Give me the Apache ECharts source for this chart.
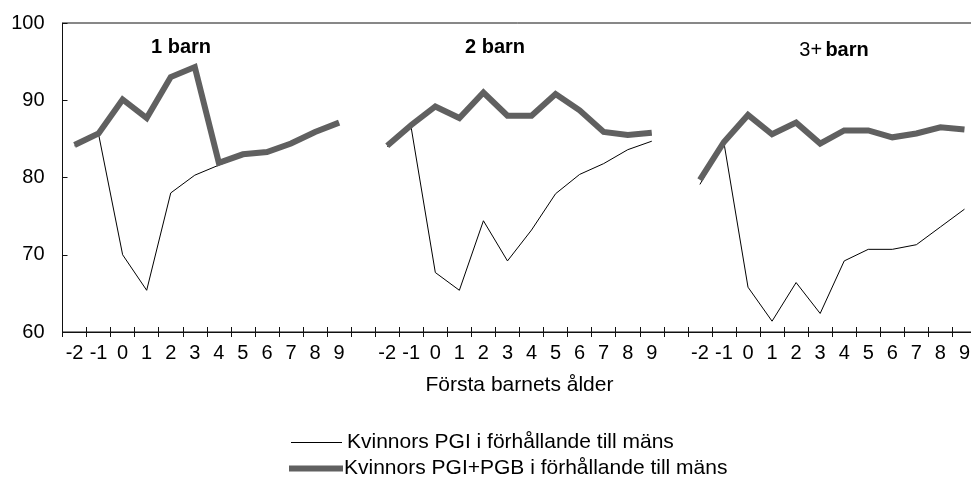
<!DOCTYPE html>
<html>
<head>
<meta charset="utf-8">
<title>Kvinnors PGI i förhållande till mäns</title>
<script src="https://cdn.jsdelivr.net/npm/echarts@6/dist/echarts.min.js"></script>
<style>
    html, body { margin: 0; padding: 0; background: #fff; }
    #pgi_chart { width: 971px; height: 480px; }
</style>
</head>
<body>
<div id="pgi_chart"></div>
<script>

// Chart data
// ------------------------------

// Tick labels, repeated for every panel
var ageLabels = ['-2', '-1', '0', '1', '2', '3', '4', '5', '6', '7', '8', '9'];

// Panel titles
var groupNames = ['1 barn', '2 barn', '3+ barn'];

// Series names
var thinName = 'Kvinnors PGI i förhållande till mäns';
var thickName = 'Kvinnors PGI+PGB i förhållande till mäns';

// Kvinnors PGI, per panel
var thin1 = [84.1, 85.6, 70.0, 65.4, 78.0, 80.3, 81.6, 82.8, 83.2, 84.3, 85.8, 87.0];
var thin2 = [84.0, 86.4, 67.7, 65.4, 74.4, 69.2, 73.2, 77.9, 80.4, 81.8, 83.6, 84.7];
var thin3 = [79.1, 84.5, 65.8, 61.4, 66.4, 62.4, 69.2, 70.7, 70.7, 71.3, 73.6, 75.9];

// Kvinnors PGI+PGB, per panel
var thick1 = [84.2, 85.7, 90.1, 87.7, 93.0, 94.3, 81.9, 83.0, 83.3, 84.4, 85.9, 87.1];
var thick2 = [84.1, 86.8, 89.2, 87.7, 91.0, 88.0, 88.0, 90.8, 88.7, 85.9, 85.5, 85.8];
var thick3 = [79.7, 84.6, 88.1, 85.6, 87.1, 84.4, 86.1, 86.1, 85.2, 85.7, 86.5, 86.2];


// Setup module
// ------------------------------

var PgiChart = function() {

    // Join the three panels with one empty category between them
    var joinGroups = function(groups, filler) {
        var out = [];
        groups.forEach(function(g, i) {
            if (i > 0) out.push(filler(i));
            out = out.concat(g);
        });
        return out;
    };

    var _pgiChart = function() {
        if (typeof echarts == 'undefined') {
            console.warn('Warning - echarts.min.js is not loaded.');
            return;
        }

        var element = document.getElementById('pgi_chart');
        if (!element) return;

        var chart = echarts.init(element);

        // Unique category keys "panel|age", blank keys for gaps
        var categories = joinGroups(
            groupNames.map(function(n, gi) {
                return ageLabels.map(function(a) { return gi + '|' + a; });
            }),
            function(i) { return 'gap' + i; }
        );
        var thinData = joinGroups([thin1, thin2, thin3], function() { return '-'; });
        var thickData = joinGroups([thick1, thick2, thick3], function() { return '-'; });

        var font = '"Liberation Sans", Arial, sans-serif';
        var axisColor = '#111';
        var thickColor = '#606060';

        var labelFormatter = function(v) {
            var p = String(v).split('|');
            return p.length > 1 ? p[1] : '';
        };

        var legendText = {
            fontFamily: font,
            fontSize: 21,
            lineHeight: 20,
            color: '#000'
        };

        chart.setOption({

            animation: false,

            textStyle: {
                fontFamily: font,
                fontSize: 20,
                color: '#000'
            },

            // Plot area, with the frame line on top (right edge runs off the page)
            grid: {
                left: 62.5,
                top: 23,
                width: 914,
                bottom: 148,
                outerBoundsMode: 'none',
                show: true,
                borderColor: axisColor,
                borderWidth: 1
            },

            // One legend per row, icons drawn as bars of the line width
            legend: [
                {
                    left: 291,
                    top: 432,
                    padding: 0,
                    icon: 'rect',
                    itemWidth: 51,
                    itemHeight: 1,
                    data: [thinName],
                    textStyle: legendText
                },
                {
                    left: 289,
                    top: 458,
                    padding: 0,
                    icon: 'rect',
                    itemWidth: 54,
                    itemHeight: 6,
                    data: [thickName],
                    textStyle: Object.assign({}, legendText, { padding: [0, 0, 0, -4] })
                }
            ],

            // Panel titles
            graphic: [
                {
                    type: 'text', x: 181, y: 47,
                    style: { text: groupNames[0], font: 'bold 20px ' + font, fill: '#000', align: 'center', verticalAlign: 'middle' }
                },
                {
                    type: 'text', x: 495, y: 47,
                    style: { text: groupNames[1], font: 'bold 20px ' + font, fill: '#000', align: 'center', verticalAlign: 'middle' }
                },
                {
                    type: 'text', x: 834, y: 50,
                    style: {
                        text: '{n|3+} {b|barn}',
                        align: 'center',
                        verticalAlign: 'middle',
                        rich: {
                            n: { fontFamily: font, fontSize: 20, fontWeight: 'normal', fill: '#000' },
                            b: { fontFamily: font, fontSize: 20, fontWeight: 'bold', fill: '#000' }
                        }
                    }
                }
            ],

            xAxis: [
                {
                    type: 'category',
                    data: categories,
                    boundaryGap: true,
                    name: 'Första barnets ålder',
                    nameLocation: 'middle',
                    nameGap: 43,
                    nameTextStyle: { fontFamily: font, fontSize: 21, color: '#000' },
                    axisLine: { lineStyle: { color: axisColor, width: 1 } },
                    axisTick: { show: true, interval: 0, length: 5, lineStyle: { color: axisColor } },
                    axisLabel: {
                        interval: 0,
                        margin: 11,
                        color: '#000',
                        fontFamily: font,
                        fontSize: 20,
                        formatter: labelFormatter
                    },
                    splitLine: { show: false }
                },
                {
                    // Second axis draws the inner half of the crossing ticks
                    type: 'category',
                    data: categories,
                    position: 'bottom',
                    boundaryGap: true,
                    axisLine: { show: false },
                    axisTick: { show: true, inside: true, interval: 0, length: 5, lineStyle: { color: axisColor } },
                    axisLabel: { show: false },
                    splitLine: { show: false }
                }
            ],

            yAxis: {
                type: 'value',
                min: 60,
                max: 100,
                interval: 10,
                axisLine: { show: true, lineStyle: { color: axisColor, width: 1 } },
                axisTick: { show: true, inside: true, length: 5, lineStyle: { color: axisColor } },
                axisLabel: { margin: 18, color: '#000', fontFamily: font, fontSize: 20 },
                splitLine: { show: false }
            },

            series: [
                {
                    name: thinName,
                    type: 'line',
                    data: thinData,
                    symbol: 'none',
                    connectNulls: false,
                    itemStyle: { color: '#000' },
                    lineStyle: { color: '#000', width: 1, join: 'miter' }
                },
                {
                    name: thickName,
                    type: 'line',
                    data: thickData,
                    symbol: 'none',
                    connectNulls: false,
                    itemStyle: { color: thickColor },
                    lineStyle: { color: thickColor, width: 6, join: 'miter', cap: 'butt' }
                }
            ]
        });
    };

    return {
        init: function() {
            _pgiChart();
        }
    };
}();


// Initialize module
// ------------------------------

document.addEventListener('DOMContentLoaded', function() {
    PgiChart.init();
});
</script>
</body>
</html>
